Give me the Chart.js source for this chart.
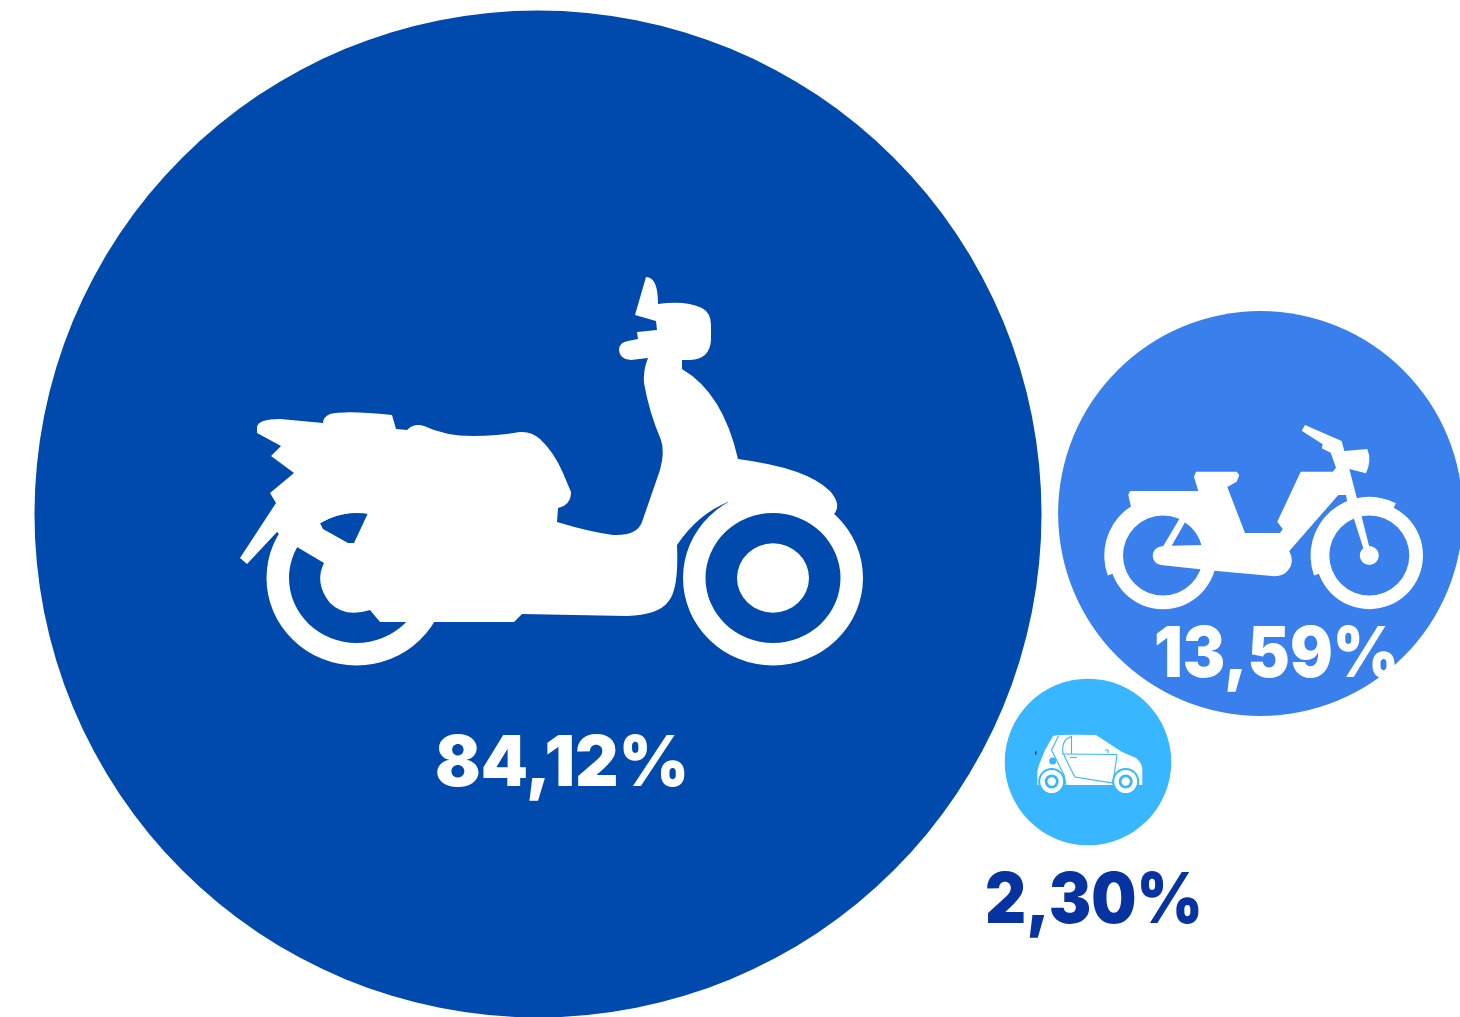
<!DOCTYPE html>
<html><head><meta charset="utf-8">
<style>html,body{margin:0;padding:0;background:#fff;overflow:hidden}canvas{display:block}</style>
<script src="https://cdn.jsdelivr.net/npm/chart.js@4"></script>
</head><body><canvas id="c" width="1460" height="1017"></canvas>
<script>
const categories = ['Scooter', 'Ciclomotore', 'Quadriciclo'];
const shares = [84.12, 13.59, 2.30];
const tickLabels = ['84,12%', '13,59%', '2,30%'];
const bubbleX = [538, 1260.5, 1088];
const bubbleY = [514, 513.5, 762];
const colors = ['#004AAD', '#3980ED', '#38B6FF'];
const RADIUS_PER_SQRT_SHARE = 54.9;

/* label placement relative to the bubble centre: dx, baseline dy, width, colour */
const labelStyle = [
  {dx: 24, dy: 272, w: 254, color: '#fff'},
  {dx: 16, dy: 163.5, w: 245, color: '#fff'},
  {dx: 6, dy: 161, w: 218, color: '#0633A0'}
];

/* Pictograms, authored around each bubble's reference centre */
const scooter = {
 origin: [538, 514],
 d: `M257,427 Q258,419 280,419 L323,423 Q323,417 330,414 Q345,410 392,415 L396,429 L407,430 Q414,423 424,426
 Q445,436 473,436 Q497,436 520,432 Q531,431 540,439 Q554,452 563,473 L571,492 Q571,505 558,508 L557,522
 Q590,532 613,535 Q637,536 642,522 L660,470 Q665,452 661,440 Q649,412 644,383 Q643,370 648,358 L631,360
 Q619,359 619,349 Q620,342 628,341 L638,339 L637,332 L657,330 L656,321 L635,315 L646,277 Q658,277 658,304
 Q685,300 702,308 Q711,313 711,325 L711,340 Q710,359 690,360 L682,360 L682,369 Q723,393 738,459
 Q807,468 830,491 Q842,505 834,514 L830,523 A78 76 0 0 0 734,512 L728,502 Q698,514 677,545
 Q679,590 668,602 Q658,615 627,616 L522,614 L514,622 L380,622 L370,610 Q345,618 330,603 Q314,583 324,563
 L297,547 L279,534 L277,532 L247,564 L240,558 L276,503 L270,493 L294,473 L271,456 L281,446 L257,433 Z
 M320,523 Q342,510 368,513 L354,543 L348,543 L323,529 Z`,
 rings: `M266.5,578 A90 87.5 0 1 0 446.5,578 A90 87.5 0 1 0 266.5,578 Z M289,578 A67.5 65 0 1 0 424,578 A67.5 65 0 1 0 289,578 Z
 M683,578 A90 87.5 0 1 0 863,578 A90 87.5 0 1 0 683,578 Z M705.5,578 A67.5 65 0 1 0 840.5,578 A67.5 65 0 1 0 705.5,578 Z`,
 extra: `M737,578 A36 34.7 0 1 0 809,578 A36 34.7 0 1 0 737,578 Z`
};

const moped = {
 origin: [1260.5, 513.5],
 d: `M1131,506.7 L1128.3,495 L1130,491 L1198.3,491 L1194,476.7 L1196,471.7 L1236.7,471.7 L1239.3,475 L1236.7,481.7 L1227.3,487
 L1245,533 L1280,533 L1282.7,529 L1277.3,521.7 L1300.7,471.7 L1332.7,471.7 L1336,467.7 L1330.7,452.7 L1321.7,448.3 L1322.7,444.3
 L1301.7,430.7 L1305,425 L1341.7,441 L1344.3,451 L1367.3,449 Q1372,460 1366,473.3 L1349.3,469 L1361.7,516.7 L1369.3,546.7
 L1363.3,548.3 L1354,519 L1347.3,502.3 L1346,495 L1338.3,495 L1289.3,551 Q1295,562 1288.3,570 Q1283,577 1272,576 L1214,570.7
 L1160.7,565 Q1153,563 1152.7,555.7 Q1153,547 1163.3,546 L1179.3,519 L1179,512 A46 46 0 0 0 1140,516 Z
 M1185,522.3 L1171.7,545.7 L1201.7,545 A40 40 0 0 0 1185,522.3 Z`,
 rings: `M1109.3,555.5 A53.7 53.7 0 1 0 1216.7,555.5 A53.7 53.7 0 1 0 1109.3,555.5 Z M1123,555.5 A40 40 0 1 0 1203,555.5 A40 40 0 1 0 1123,555.5 Z
 M1315.6,555.5 A53.7 53.7 0 1 0 1423,555.5 A53.7 53.7 0 1 0 1315.6,555.5 Z M1329.3,555.5 A40 40 0 1 0 1409.3,555.5 A40 40 0 1 0 1329.3,555.5 Z`,
 extra: `M1107.8,575.6 A58.7 58.7 0 0 1 1192.4,504.7 L1188,512.2 A50 50 0 0 0 1116,572.6 Z
 M1314.1,575.6 A58.7 58.7 0 0 1 1395.9,503.2 L1392,511 A50 50 0 0 0 1322.3,572.6 Z
 M1359.8,555.5 A9.5 9.5 0 1 0 1378.8,555.5 A9.5 9.5 0 1 0 1359.8,555.5 Z`
};

const car = {
 origin: [1088, 762],
 d: `M1037.3,777 Q1037,770 1039,765 L1045,750 L1053,736 Q1060,734 1096,735 L1121.7,751.7 L1136,758 Q1141,762 1142.3,768 L1142.3,785 L1037.3,785 Z`,
 lines: `M1058.5,736 L1051,751 M1063,753 Q1061,740 1071.5,736.5 L1071.5,753.5 M1062,754 L1117,754.5 M1063,753 Q1070,768 1075,777 L1113,783 L1117,755 M1070,757.5 L1077,757.5 M1052,751 L1064,775 L1066,785 M1105,750 L1108,750 L1108,753`,
 arches: [[1051.7, 781.5], [1125.7, 781.5]],
 lamp: [1052.7, 761]
};

const iconPlugin = {
 id: 'pictograms',
 afterDatasetsDraw(chart) {
  const ctx = chart.ctx, pts = chart.getDatasetMeta(0).data;
  const place = (el, icon) => { ctx.save(); ctx.translate(el.x - icon.origin[0], el.y - icon.origin[1]); };
  [scooter, moped].forEach((icon, i) => {
    place(pts[i], icon);
    ctx.fillStyle = '#fff';
    ctx.fill(new Path2D(icon.d), 'evenodd');
    ctx.fill(new Path2D(icon.rings), 'evenodd');
    ctx.fill(new Path2D(icon.extra));
    ctx.restore();
  });
  /* car */
  place(pts[2], car);
  ctx.fillStyle = '#fff';
  ctx.fill(new Path2D(car.d));
  ctx.strokeStyle = colors[2]; ctx.lineWidth = 1.1;
  ctx.stroke(new Path2D(car.lines));
  car.arches.forEach(([x, y]) => {
    ctx.fillStyle = colors[2]; ctx.beginPath(); ctx.arc(x, y, 13.5, 0, 7); ctx.fill();
    ctx.fillStyle = '#fff'; ctx.beginPath(); ctx.arc(x, y, 11.5, 0, 7); ctx.fill();
    ctx.fillStyle = colors[2]; ctx.beginPath(); ctx.arc(x, y, 7, 0, 7); ctx.fill();
    ctx.fillStyle = '#fff'; ctx.beginPath(); ctx.arc(x, y, 4.2, 0, 7); ctx.fill();
  });
  ctx.fillStyle = colors[2]; ctx.beginPath(); ctx.arc(car.lamp[0], car.lamp[1], 3.5, 0, 7); ctx.fill();
  ctx.fillStyle = '#123'; ctx.fillRect(1035, 751.5, 1.4, 3);
  ctx.restore();
  /* percentage labels */
  tickLabels.forEach((t, i) => {
    const s = labelStyle[i], el = pts[i];
    ctx.save();
    ctx.font = '900 70px Inter';
    ctx.textAlign = 'left'; ctx.textBaseline = 'alphabetic';
    ctx.fillStyle = s.color;
    const m = ctx.measureText(t).width;
    const k = s.w / m;
    ctx.translate(el.x + s.dx - s.w / 2, el.y + s.dy);
    ctx.scale(k, 1);
    ctx.fillText(t, 0, 0);
    ctx.restore();
  });
 }
};

new Chart(document.getElementById('c'), {
 type: 'bubble',
 data: {
  labels: categories,
  datasets: [{
   label: 'Quota',
   data: shares.map((v, i) => ({x: bubbleX[i], y: bubbleY[i], r: Math.sqrt(v) * RADIUS_PER_SQRT_SHARE})),
   backgroundColor: colors,
   hoverBackgroundColor: colors,
   borderWidth: 0,
   clip: false
  }]
 },
 options: {
  responsive: false,
  animation: false,
  layout: {padding: 0, autoPadding: false},
  plugins: {legend: {display: false}, tooltip: {enabled: false}},
  scales: {
   x: {type: 'linear', min: 0, max: 1460, display: false},
   y: {type: 'linear', min: 0, max: 1017, reverse: true, display: false}
  }
 },
 plugins: [iconPlugin]
});
</script></body></html>
